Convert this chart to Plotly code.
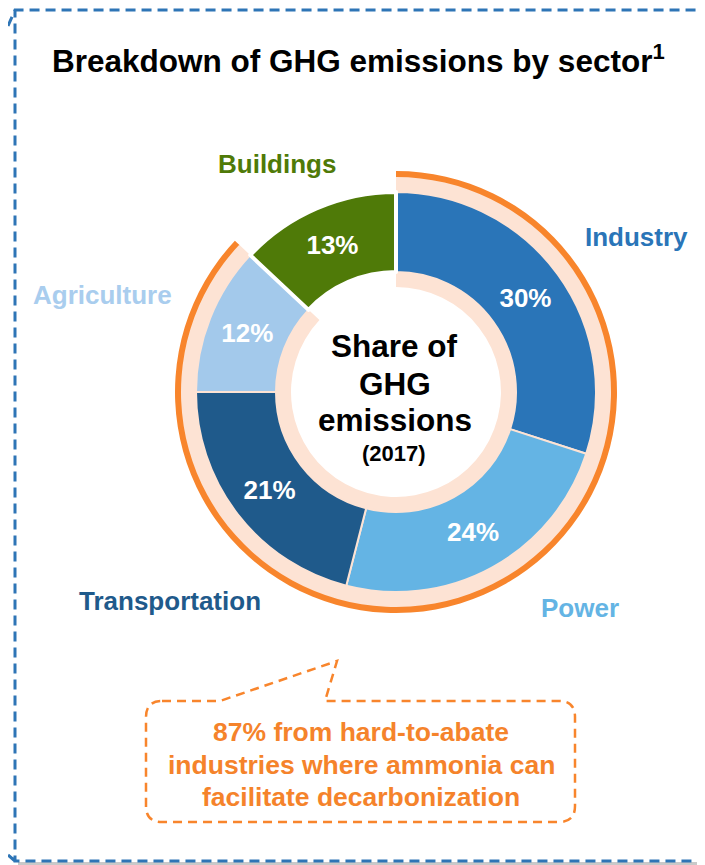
import plotly.graph_objects as go

# ---- data ----
sectors = ["Industry", "Power", "Transportation", "Agriculture", "Buildings"]
shares = [30, 24, 21, 12, 13]
pct_labels = ["30%", "24%", "21%", "12%", "13%"]
hard_to_abate = [87, 13]          # Industry+Power+Transport+Agriculture vs Buildings
center_lines = ["Share of", "GHG", "emissions"]
center_year = "(2017)"
title_text = "Breakdown of GHG emissions by sector<sup>1</sup>"
callout_lines = ["87% from hard-to-abate", "industries where ammonia can", "facilitate decarbonization"]

# ---- styles ----
OFF = 8                      # page body margin offset
W, H = 705 - OFF, 865 - OFF
slice_colors = ["#2a75b8", "#64b4e4", "#1f5a8b", "#a3c9eb", "#4f7a08"]
label_colors = ["#2a75b8", "#64b4e4", "#1f5a8b", "#a9cdee", "#4f7a08"]
peach = "#fde3d4"
orange = "#f8852c"
blue = "#2e75b6"
FONT = "Liberation Sans, Arial, sans-serif"


def X(x):
    return (x - OFF) / W


def Y(y):
    return 1 - (y - OFF) / H


CX, CY = 396, 392


def dom(r):
    return dict(x=[X(CX - r), X(CX + r)], y=[Y(CY + r), Y(CY - r)])


fig = go.Figure()

# orange outline arc (87%)
fig.add_trace(go.Pie(values=hard_to_abate, sort=False, direction="clockwise", rotation=0,
                     hole=214 / 221, domain=dom(221), textinfo="none", hoverinfo="skip",
                     marker=dict(colors=[orange, "rgba(0,0,0,0)"], line=dict(width=0)),
                     showlegend=False))
# peach background ring (87%)
fig.add_trace(go.Pie(values=hard_to_abate, sort=False, direction="clockwise", rotation=0,
                     hole=105 / 215, domain=dom(215), textinfo="none", hoverinfo="skip",
                     marker=dict(colors=[peach, "rgba(0,0,0,0)"], line=dict(width=0)),
                     showlegend=False))
# main donut
fig.add_trace(go.Pie(labels=sectors, values=shares, sort=False, direction="clockwise", rotation=0,
                     hole=120 / 200, domain=dom(200),
                     text=pct_labels, textinfo="text", textposition="inside",
                     insidetextorientation="horizontal",
                     textfont=dict(family=FONT, size=26, color="white", weight="bold"),
                     marker=dict(colors=slice_colors,
                                 line=dict(color=[peach, peach, peach, peach, "white"],
                                           width=[2, 2, 2, 2, 4])),
                     showlegend=False))

ann = []
# title
ann.append(dict(x=X(358), y=Y(59), text=title_text, showarrow=False, xanchor="center",
                yanchor="middle", font=dict(family=FONT, size=31.5, color="black", weight="bold")))
# outside labels
label_pos = [(636, 237), (580, 608), (170, 601), (102, 295), (277, 164)]
for name, col, (lx, ly) in zip(sectors, label_colors, label_pos):
    ann.append(dict(x=X(lx), y=Y(ly), text=name, showarrow=False, xanchor="center",
                    yanchor="middle", font=dict(family=FONT, size=26, color=col, weight="bold")))
# center text
center_pos = [346, 384, 420]
for t, cy in zip(center_lines, center_pos):
    ann.append(dict(x=X(395), y=Y(cy), text=t, showarrow=False, xanchor="center",
                    yanchor="middle", font=dict(family=FONT, size=31.5, color="black", weight="bold")))
ann.append(dict(x=X(394), y=Y(454), text=center_year, showarrow=False, xanchor="center",
                yanchor="middle", font=dict(family=FONT, size=22, color="black", weight="bold")))
# callout text
for t, cy in zip(callout_lines, [732, 765, 797]):
    ann.append(dict(x=X(361), y=Y(cy), text=t, showarrow=False, xanchor="center",
                    yanchor="middle", font=dict(family=FONT, size=26.5, color="#f5832b", weight="bold")))

# callout box path (rounded rect with pointer)
L, R, T, B, rad = 146, 575, 701, 822, 16
cb = (f"M {X(L+rad)},{Y(T)} L {X(220)},{Y(T)} L {X(337)},{Y(661)} L {X(325)},{Y(T)} "
      f"L {X(R-rad)},{Y(T)} Q {X(R)},{Y(T)} {X(R)},{Y(T+rad)} "
      f"L {X(R)},{Y(B-rad)} Q {X(R)},{Y(B)} {X(R-rad)},{Y(B)} "
      f"L {X(L+rad)},{Y(B)} Q {X(L)},{Y(B)} {X(L)},{Y(B-rad)} "
      f"L {X(L)},{Y(T+rad)} Q {X(L)},{Y(T)} {X(L+rad)},{Y(T)} Z")

shapes = [
    # bottom gray shadow
    dict(type="rect", xref="paper", yref="paper", x0=X(18), x1=X(705), y0=Y(865), y1=Y(862),
         fillcolor="#c9c9c9", line=dict(width=0), layer="below"),
    # outer dashed blue frame
    dict(type="path", xref="paper", yref="paper",
         path=(f"M {X(8)},{Y(26)} L {X(15)},{Y(10)} L {X(703)},{Y(10)} L {X(703)},{Y(861)} "
               f"L {X(15)},{Y(861)} L {X(15)},{Y(10)} M {X(15)},{Y(861)} L {X(8)},{Y(855)}"),
         line=dict(color=blue, width=3, dash="10px,6px")),
    dict(type="path", xref="paper", yref="paper", path=cb,
         line=dict(color=orange, width=2.5, dash="9px,6px")),
]

fig.update_layout(width=W, height=H, margin=dict(l=0, r=0, t=0, b=0),
                  paper_bgcolor="white", plot_bgcolor="white",
                  annotations=ann, shapes=shapes, showlegend=False,
                  font=dict(family=FONT))
fig.write_html("out.html")
